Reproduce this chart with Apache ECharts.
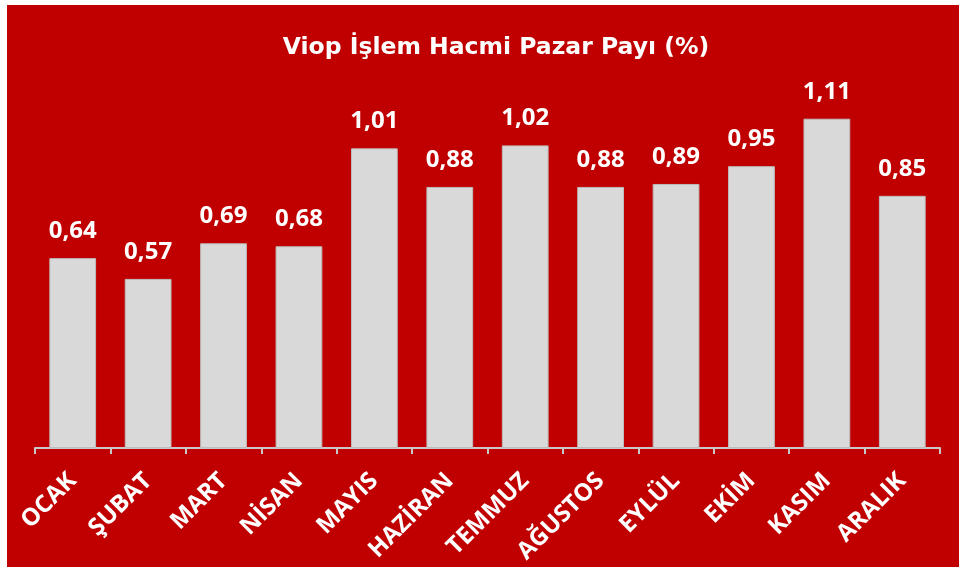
<!DOCTYPE html>
<html>
<head>
<meta charset="utf-8">
<script src="https://cdn.jsdelivr.net/npm/echarts@6/dist/echarts.min.js"></script>
<style>
  html, body { margin: 0; padding: 0; background: #ffffff; }
  #chart { position: absolute; left: 7px; top: 5px; width: 952px; height: 562px; }
</style>
</head>
<body>
<div id="chart"></div>
<script>
// aylar ve pazar payı (%)
var months = ['OCAK', 'ŞUBAT', 'MART', 'NİSAN', 'MAYIS', 'HAZİRAN', 'TEMMUZ', 'AĞUSTOS', 'EYLÜL', 'EKİM', 'KASIM', 'ARALIK'];
var marketShare = [0.64, 0.57, 0.69, 0.68, 1.01, 0.88, 1.02, 0.88, 0.89, 0.95, 1.11, 0.85];

var chart = echarts.init(document.getElementById('chart'));

var option = {
  backgroundColor: '#c00000',
  animation: false,
  title: {
    text: 'Viop İşlem Hacmi Pazar Payı (%)',
    left: 484,
    textAlign: 'center',
    top: 26,
    textStyle: {
      color: '#ffffff',
      fontFamily: 'DejaVu Sans',
      fontWeight: 'bold',
      fontSize: 23.5
    }
  },
  grid: { left: 28, right: 19, top: 87, bottom: 119 },
  xAxis: {
    type: 'category',
    data: months,
    axisLine: { lineStyle: { color: '#c8c8c8', width: 2 } },
    axisTick: { show: true, length: 6, lineStyle: { color: '#c8c8c8', width: 2 } },
    axisLabel: {
      rotate: 45,
      margin: 29,
      color: '#ffffff',
      fontFamily: 'Open Sans',
      fontWeight: 'bold',
      fontSize: 24,
      interval: 0
    }
  },
  yAxis: {
    type: 'value',
    min: 0,
    max: 1.2,
    show: false,
    splitLine: { show: false }
  },
  series: [{
    type: 'bar',
    data: marketShare,
    barCategoryGap: '38%',
    itemStyle: { color: '#d9d9d9', borderColor: '#bdbdbd', borderWidth: 1 },
    label: {
      show: true,
      position: 'top',
      distance: 15,
      color: '#ffffff',
      fontFamily: 'Open Sans',
      fontWeight: 'bold',
      fontSize: 24,
      formatter: function (p) {
        return p.value.toFixed(2).replace('.', ',');
      }
    }
  }]
};

chart.setOption(option);
</script>
</body>
</html>
